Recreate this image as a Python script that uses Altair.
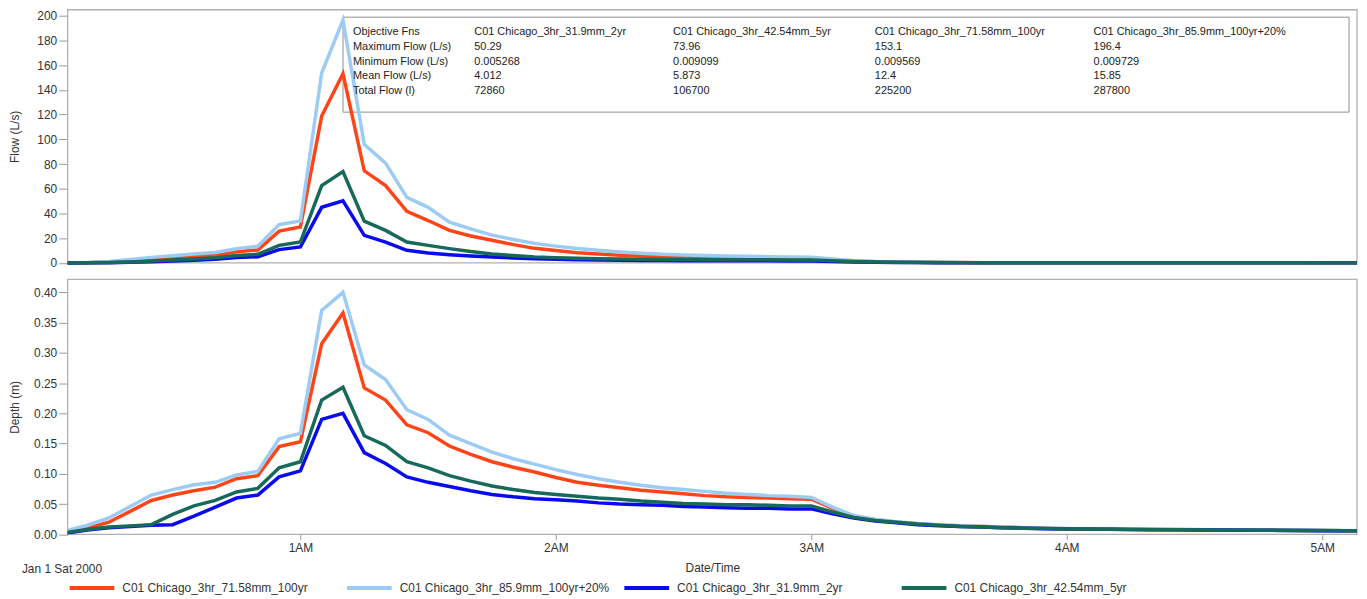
import altair as alt
import pandas as pd

# ---------------- data ----------------
S100 = "C01 Chicago_3hr_71.58mm_100yr"
S120 = "C01 Chicago_3hr_85.9mm_100yr+20%"
S2 = "C01 Chicago_3hr_31.9mm_2yr"
S5 = "C01 Chicago_3hr_42.54mm_5yr"
series_order = [S100, S120, S2, S5]
series_colors = ["#FF4518", "#9CCBF4", "#0A0AEE", "#17695A"]

# 5-minute time steps from 00:05 to 05:10
times = [f"2000-01-01T{(5 + 5 * k) // 60:02d}:{(5 + 5 * k) % 60:02d}:00" for k in range(62)]

flow_120 = [0.02, 0.3, 1.2, 2.8, 4.5, 5.8, 7.2, 8.5, 11.5, 13.5, 31, 34, 153.6, 196.4, 96, 80.7,
            53, 45, 33, 27.5, 22.5, 19, 15.8, 13.6, 11.7, 10.2, 8.9, 7.9, 7.1, 6.5, 6.1, 5.7,
            5.4, 5.1, 4.9, 4.7, 3.2, 1.9, 1.1, 0.7, 0.5, 0.4, 0.32, 0.26, 0.22, 0.19, 0.17, 0.15,
            0.14, 0.13, 0.12, 0.11, 0.10, 0.09, 0.085, 0.08, 0.075, 0.07, 0.065, 0.06, 0.058, 0.055]
flow_100 = [0.01, 0.15, 0.7, 1.6, 2.8, 3.8, 5.0, 6.3, 9.0, 10.5, 25.7, 29, 118.8, 153.1, 74.5, 62.5,
            41.8, 34.3, 26.3, 21.8, 18.3, 14.8, 11.8, 10, 8.3, 7.2, 6.3, 5.6, 5.0, 4.6, 4.3, 4.1,
            3.9, 3.8, 3.7, 3.6, 2.5, 1.5, 0.9, 0.6, 0.45, 0.35, 0.28, 0.23, 0.2, 0.17, 0.15, 0.14,
            0.13, 0.12, 0.11, 0.1, 0.09, 0.085, 0.08, 0.075, 0.07, 0.065, 0.06, 0.057, 0.054, 0.052]
flow_5 = [0.01, 0.08, 0.3, 0.8, 1.5, 2.3, 3.2, 4.2, 6.0, 7.0, 14.2, 16.9, 62.5, 73.96, 33.8, 26.3,
          16.9, 14.2, 11.6, 9.2, 7.2, 6.0, 4.9, 4.3, 3.8, 3.4, 3.1, 2.9, 2.8, 2.7, 2.6, 2.6,
          2.5, 2.5, 2.4, 2.4, 1.7, 1.1, 0.7, 0.5, 0.38, 0.3, 0.25, 0.21, 0.18, 0.16, 0.14, 0.13,
          0.12, 0.11, 0.1, 0.095, 0.09, 0.085, 0.08, 0.075, 0.07, 0.065, 0.06, 0.057, 0.054, 0.052]
flow_2 = [0.005, 0.05, 0.2, 0.5, 1.0, 1.5, 2.2, 3.0, 4.3, 5.0, 10.8, 12.9, 45, 50.29, 22.3, 16.9,
          10.2, 8.0, 6.7, 5.6, 4.8, 4.0, 3.3, 2.9, 2.5, 2.3, 2.1, 2.0, 1.9, 1.8, 1.8, 1.7,
          1.7, 1.7, 1.6, 1.6, 1.1, 0.75, 0.5, 0.35, 0.27, 0.22, 0.18, 0.15, 0.13, 0.12, 0.11, 0.1,
          0.09, 0.085, 0.08, 0.075, 0.07, 0.065, 0.062, 0.06, 0.057, 0.055, 0.053, 0.051, 0.05, 0.049]

depth_120 = [0.006, 0.015, 0.027, 0.046, 0.065, 0.074, 0.082, 0.086, 0.098, 0.104, 0.158, 0.167,
             0.37, 0.40, 0.28, 0.256, 0.206, 0.19, 0.164, 0.15, 0.136, 0.125, 0.116, 0.107,
             0.099, 0.092, 0.086, 0.081, 0.077, 0.074, 0.071, 0.068, 0.066, 0.064, 0.063, 0.061,
             0.045, 0.031, 0.025, 0.021, 0.018, 0.016, 0.014, 0.013, 0.012, 0.011, 0.010, 0.0095,
             0.009, 0.0088, 0.0085, 0.0082, 0.008, 0.0078, 0.0076, 0.0073, 0.007, 0.0068, 0.0066,
             0.0064, 0.0062, 0.006]
depth_100 = [0.004, 0.01, 0.02, 0.038, 0.056, 0.065, 0.072, 0.078, 0.092, 0.097, 0.145, 0.153,
             0.315, 0.366, 0.242, 0.222, 0.181, 0.168, 0.146, 0.132, 0.12, 0.111, 0.103, 0.094,
             0.086, 0.081, 0.077, 0.073, 0.07, 0.067, 0.064, 0.062, 0.061, 0.06, 0.059, 0.058,
             0.043, 0.03, 0.024, 0.02, 0.017, 0.015, 0.014, 0.013, 0.012, 0.011, 0.01, 0.0092,
             0.0088, 0.0085, 0.0082, 0.008, 0.0078, 0.0076, 0.0074, 0.0071, 0.0069, 0.0067, 0.0065,
             0.0063, 0.0061, 0.0059]
depth_5 = [0.003, 0.008, 0.012, 0.014, 0.016, 0.033, 0.047, 0.056, 0.07, 0.076, 0.11, 0.12,
           0.222, 0.243, 0.163, 0.147, 0.12, 0.11, 0.097, 0.088, 0.08, 0.074, 0.069, 0.066,
           0.063, 0.06, 0.058, 0.055, 0.053, 0.051, 0.05, 0.049, 0.049, 0.048, 0.047, 0.047,
           0.037, 0.028, 0.023, 0.02, 0.017, 0.015, 0.013, 0.012, 0.011, 0.01, 0.0095, 0.009,
           0.0087, 0.0084, 0.0081, 0.0078, 0.0076, 0.0074, 0.0072, 0.007, 0.0068, 0.0066, 0.0064,
           0.0062, 0.006, 0.0058]
depth_2 = [0.002, 0.007, 0.011, 0.013, 0.015, 0.016, 0.03, 0.045, 0.06, 0.065, 0.095, 0.105,
           0.19, 0.2, 0.135, 0.117, 0.095, 0.086, 0.079, 0.072, 0.066, 0.062, 0.059, 0.057,
           0.055, 0.052, 0.05, 0.049, 0.048, 0.046, 0.045, 0.044, 0.043, 0.043, 0.042, 0.042,
           0.034, 0.027, 0.022, 0.019, 0.016, 0.014, 0.013, 0.012, 0.011, 0.01, 0.0094, 0.0089,
           0.0086, 0.0083, 0.008, 0.0077, 0.0075, 0.0073, 0.0071, 0.0069, 0.0067, 0.0065, 0.0063,
           0.0061, 0.0059, 0.0057]

table_header = ["Objective Fns", S2, S5, S100, S120]
table_rows = ["Maximum Flow (L/s)", "Minimum Flow (L/s)", "Mean Flow (L/s)", "Total Flow (l)"]
table_values = {
    S2: ["50.29", "0.005268", "4.012", "72860"],
    S5: ["73.96", "0.009099", "5.873", "106700"],
    S100: ["153.1", "0.009569", "12.4", "225200"],
    S120: ["196.4", "0.009729", "15.85", "287800"],
}

flows = {S100: flow_100, S120: flow_120, S2: flow_2, S5: flow_5}
depths = {S100: depth_100, S120: depth_120, S2: depth_2, S5: depth_5}

rows = []
for s in series_order:
    for t, f, d in zip(times, flows[s], depths[s]):
        rows.append({"time": t, "series": s, "flow": f, "depth": d})
df = pd.DataFrame(rows)

# ---------------- layout ----------------
W = 1297
H = 528
TOP_BOTTOM = 254.7
BOT_TOP, BOT_BOTTOM = 271.3, 527.7
FONT = "Liberation Sans"
AXIS_GRAY = "#999999"
LABEL_COLOR = "#333333"

x_enc = alt.X(
    "time:T",
    scale=alt.Scale(domain=[alt.DateTime(year=2000, month=1, date=1, hours=0, minutes=5, seconds=20),
                            alt.DateTime(year=2000, month=1, date=1, hours=5, minutes=8, seconds=10)]),
    axis=alt.Axis(
        title="Date/Time",
        values=[alt.DateTime(year=2000, month=1, date=1, hours=h) for h in range(1, 6)],
        format="%-I%p", grid=False, domain=False, tickSize=5, tickColor=AXIS_GRAY,
        labelPadding=3, labelFontSize=12, labelColor=LABEL_COLOR,
        titleFontSize=12, titleFontWeight="normal", titleColor=LABEL_COLOR, titlePadding=9,
    ),
)

color_enc = alt.Color(
    "series:N",
    scale=alt.Scale(domain=series_order, range=series_colors),
    legend=alt.Legend(
        title=None, orient="none", legendX=0, legendY=557, direction="horizontal",
        columns=4, symbolType="stroke", symbolSize=2025, symbolStrokeWidth=4,
        labelFontSize=12, labelColor=LABEL_COLOR, labelOffset=6, columnPadding=6,
        gridAlign="all", padding=0, labelLimit=400,
    ),
)

flow_lines = alt.Chart(df).mark_line(strokeWidth=3.5, clip=True).encode(
    x=x_enc,
    y=alt.Y("flow:Q",
            scale=alt.Scale(domain=[0, 204.8], range=[TOP_BOTTOM, 0], nice=False),
            axis=alt.Axis(title="Flow (L/s)", orient="left", values=list(range(0, 201, 20)),
                          grid=False, domain=False, tickSize=9, tickColor=AXIS_GRAY,
                          labelPadding=2, labelFontSize=12, labelColor=LABEL_COLOR,
                          titleFontSize=12, titleFontWeight="normal", titleColor=LABEL_COLOR,
                          titleX=-53, titleBaseline="middle")),
    color=color_enc,
)

depth_lines = alt.Chart(df).mark_line(strokeWidth=3.5, clip=True).encode(
    x=x_enc,
    y=alt.Y("depth:Q",
            scale=alt.Scale(domain=[0, 0.4214], range=[BOT_BOTTOM, BOT_TOP], nice=False),
            axis=alt.Axis(title="Depth (m)", orient="left",
                          values=[0, 0.05, 0.1, 0.15, 0.2, 0.25, 0.3, 0.35, 0.4], format=".2f",
                          grid=False, domain=False, tickSize=9, tickColor=AXIS_GRAY,
                          labelPadding=2, labelFontSize=12, labelColor=LABEL_COLOR,
                          titleFontSize=12, titleFontWeight="normal", titleColor=LABEL_COLOR,
                          titleX=-53, titleBaseline="middle")),
    color=color_enc,
)

one = pd.DataFrame({"a": [0]})
frame_top = alt.Chart(one).mark_rect(fillOpacity=0, stroke="#b0b0b0", strokeWidth=1.3).encode(
    x=alt.value(0), x2=alt.value(W), y=alt.value(0), y2=alt.value(TOP_BOTTOM))
frame_bot = alt.Chart(one).mark_rect(fillOpacity=0, stroke="#b0b0b0", strokeWidth=1.3).encode(
    x=alt.value(0), x2=alt.value(W), y=alt.value(BOT_TOP), y2=alt.value(BOT_BOTTOM))

table_box = alt.Chart(one).mark_rect(fillOpacity=0, stroke="#909090", strokeWidth=1).encode(
    x=alt.value(277), x2=alt.value(1289), y=alt.value(7.5), y2=alt.value(103))

col_x = [287, 409, 609, 812, 1032]
columns_text = [[table_header[0]] + table_rows] + [[s] + table_values[s] for s in table_header[1:]]
table_layers = []
for cx, lines in zip(col_x, columns_text):
    table_layers.append(
        alt.Chart(pd.DataFrame({"t": ["\n".join(lines)]})).mark_text(
            align="left", baseline="middle", lineBreak="\n", lineHeight=14.8,
            fontSize=11, color="#222222", font=FONT,
        ).encode(x=alt.value(cx), y=alt.value(22.5), text="t:N")
    )

date_label = alt.Chart(pd.DataFrame({"t": ["Jan 1 Sat 2000"]})).mark_text(
    align="left", baseline="middle", fontSize=12, color=LABEL_COLOR, font=FONT,
).encode(x=alt.value(-46), y=alt.value(563), text="t:N")

chart = alt.layer(
    frame_top, frame_bot, table_box, flow_lines, depth_lines, *table_layers, date_label
).resolve_scale(y="independent").resolve_axis(y="independent").properties(
    width=W, height=H,
    autosize=alt.AutoSizeParams(type="none"),
    padding={"left": 60, "top": 0, "right": 2, "bottom": 62},
).configure(font=FONT).configure_view(stroke=None)

chart.save("out.html", embed_options={"renderer": "svg", "actions": False})
